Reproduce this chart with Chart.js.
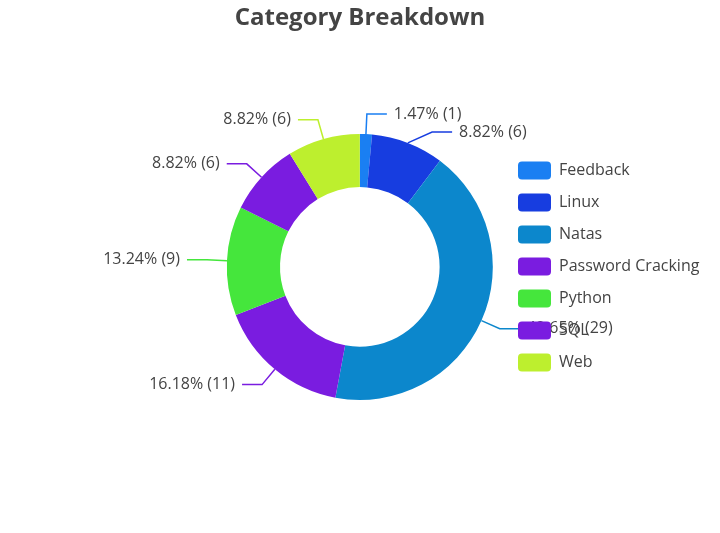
<!DOCTYPE html>
<html>
<head>
<meta charset="utf-8">
<script src="https://cdn.jsdelivr.net/npm/chart.js@4/dist/chart.umd.min.js"></script>
<style>
  html, body { margin: 0; padding: 0; background: #fff; }
  #wrap { width: 720px; height: 533px; }
</style>
</head>
<body>
<div id="wrap"><canvas id="chartDona"></canvas></div>
<script>
// Datos (orden de los sectores, sentido horario desde arriba)
const categories = ['Feedback', 'Linux', 'Natas', 'SQL', 'Python', 'Password Cracking', 'Web'];
const counts     = [1, 6, 29, 11, 9, 6, 6];
const colors     = ['#1a7ff2', '#173de0', '#0c87cc', '#7a1ce0', '#45e63c', '#7a1ce0', '#bdef2e'];

const TEXT_COLOR = '#444444';
const FONT       = '"Open Sans", "Noto Sans", sans-serif';
const LEGEND_LEFT = 504;   // borde izquierdo del recuadro de leyenda
const LEGEND_DY   = 21;    // desplazamiento vertical de la leyenda

const total = counts.reduce((s, v) => s + v, 0);

// Título centrado en todo el ancho y leyenda recolocada
const placeBoxes = {
  id: 'placeBoxes',
  afterLayout(chart) {
    const t = chart.titleBlock;
    if (t) { t.left = 0; t.right = chart.width; t.width = chart.width; }
    const lg = chart.legend;
    if (lg) {
      const dx = LEGEND_LEFT - lg.left;
      lg.left += dx; lg.right += dx;
      lg.top += LEGEND_DY; lg.bottom += LEGEND_DY;
    }
  }
};

// Etiquetas externas con línea guía (se dibujan antes que la leyenda)
const outsideLabels = {
  id: 'outsideLabels',
  beforeDraw(chart) {
    const { ctx } = chart;
    const meta = chart.getDatasetMeta(0);
    const items = meta.data.map((arc, i) => {
      const { x, y, startAngle, endAngle, outerRadius } = arc.getProps(['x', 'y', 'startAngle', 'endAngle', 'outerRadius'], true);
      const mid = (startAngle + endAngle) / 2;
      const R = outerRadius + 20;
      return {
        i, cx: x, cy: y, R,
        px: x + outerRadius * Math.cos(mid),
        py: y + outerRadius * Math.sin(mid),
        ex: x + R * Math.cos(mid),
        ey: y + R * Math.sin(mid),
        right: Math.cos(mid) >= 0,
      };
    });

    // Evitar solapes por lado
    [true, false].forEach(side => {
      const list = items.filter(o => o.right === side).sort((a, b) => a.ey - b.ey);
      for (let k = 1; k < list.length; k++) {
        const prev = list[k - 1], cur = list[k];
        if (cur.ey < prev.ey + 18) {
          cur.ey = prev.ey + 18;
          const dy = cur.ey - cur.cy;
          if (Math.abs(dy) < cur.R) {
            const dx = Math.sqrt(cur.R * cur.R - dy * dy);
            cur.ex = cur.cx + (side ? dx : -dx);
          }
        }
      }
    });

    ctx.save();
    ctx.font = '16px ' + FONT;
    ctx.textBaseline = 'middle';
    items.forEach(o => {
      const dir = o.right ? 1 : -1;
      const hx = o.ex + dir * 20;
      ctx.strokeStyle = colors[o.i];
      ctx.lineWidth = 1.5;
      ctx.beginPath();
      ctx.moveTo(o.px, o.py);
      ctx.lineTo(o.ex, o.ey);
      ctx.lineTo(hx, o.ey);
      ctx.stroke();

      const v = counts[o.i];
      const txt = (v / total * 100).toFixed(2) + '% (' + v + ')';
      ctx.fillStyle = TEXT_COLOR;
      ctx.textAlign = o.right ? 'left' : 'right';
      ctx.fillText(txt, hx + dir * 7, o.ey);
    });
    ctx.restore();
  }
};

new Chart(document.getElementById('chartDona'), {
  type: 'doughnut',
  data: {
    labels: categories,
    datasets: [{
      data: counts,
      backgroundColor: colors,
      borderWidth: 0,
      radius: 133,
    }]
  },
  options: {
    responsive: true,
    maintainAspectRatio: false,
    animation: false,
    cutout: '60%',
    layout: { padding: { left: 205, right: 0, top: 0, bottom: 42 } },
    plugins: {
      title: {
        display: true,
        text: 'Category Breakdown',
        color: TEXT_COLOR,
        font: { family: FONT, size: 24, weight: 'bold' },
        padding: { top: 4, bottom: 10 },
      },
      legend: {
        position: 'right',
        align: 'center',
        labels: {
          color: TEXT_COLOR,
          font: { family: FONT, size: 16 },
          boxWidth: 33,
          boxHeight: 18,
          padding: 14,
          useBorderRadius: true,
          borderRadius: 4,
          sort: (a, b) => a.text.localeCompare(b.text),
        },
      },
      tooltip: { enabled: false },
    }
  },
  plugins: [placeBoxes, outsideLabels]
});
</script>
</body>
</html>
